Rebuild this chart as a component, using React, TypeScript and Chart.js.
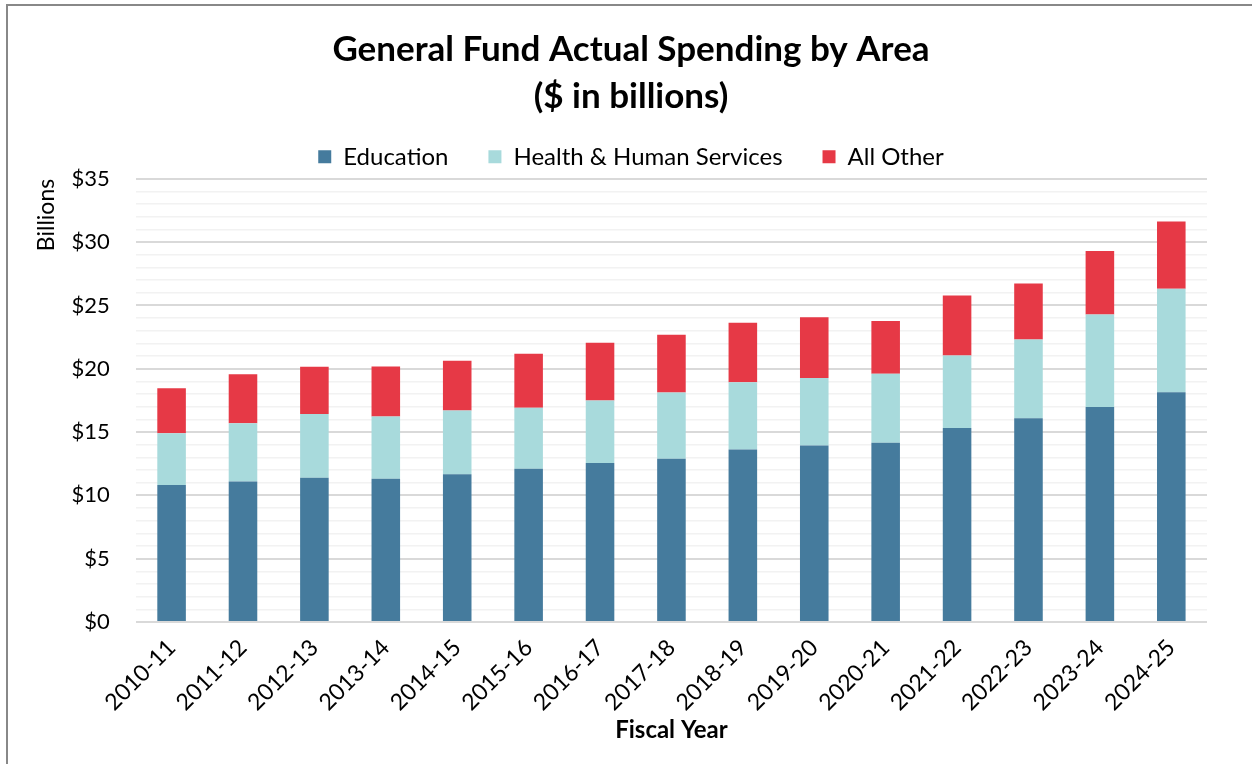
import React, { useEffect, useRef } from "react";
import { Chart, registerables } from "chart.js";

Chart.register(...registerables);

const categories = [
  "2010-11", "2011-12", "2012-13", "2013-14", "2014-15", "2015-16", "2016-17", "2017-18",
  "2018-19", "2019-20", "2020-21", "2021-22", "2022-23", "2023-24", "2024-25",
];

const education = [10.83, 11.09, 11.39, 11.31, 11.68, 12.1, 12.55, 12.89, 13.63, 13.95, 14.16, 15.32, 16.09, 16.99, 18.15];
const healthHumanServices = [4.07, 4.6, 5.04, 4.93, 5.02, 4.83, 4.94, 5.23, 5.31, 5.33, 5.44, 5.73, 6.23, 7.29, 8.16];
const allOther = [3.56, 3.88, 3.73, 3.94, 3.93, 4.26, 4.57, 4.57, 4.7, 4.78, 4.17, 4.73, 4.41, 5.01, 5.31];

const yMin = 0;
const yMax = 35;
const yMajorStep = 5;
const yMinorStep = 1;

const titleLines = ["General Fund Actual Spending by Area", "($ in billions)"];
const yAxisTitle = "Billions";
const xAxisTitle = "Fiscal Year";

const FONT = "Lato, 'Open Sans', sans-serif";

export default function App() {
  const ref = useRef<HTMLCanvasElement>(null);

  useEffect(() => {
    document.body.style.margin = "0";
    const chart = new Chart(ref.current!, {
      type: "bar",
      data: {
        labels: categories,
        datasets: [
          { label: "Education", data: education, backgroundColor: "#457B9D" },
          { label: "Health & Human Services", data: healthHumanServices, backgroundColor: "#A8DADC" },
          { label: "All Other", data: allOther, backgroundColor: "#E63946" },
        ],
      },
      options: {
        responsive: false,
        animation: false,
        layout: { padding: { top: 0, left: 55, right: 45, bottom: 19 } },
        datasets: { bar: { barPercentage: 0.4, categoryPercentage: 1 } },
        plugins: {
          tooltip: { enabled: false },
          title: {
            display: true,
            text: titleLines,
            color: "#000",
            font: { family: FONT, size: 35, weight: "bold", lineHeight: 1.34 },
            padding: { top: 26, bottom: -15 },
          },
          legend: {
            display: true,
            position: "top",
            labels: {
              color: "#000",
              font: { family: FONT, size: 24 },
              boxWidth: 13,
              boxHeight: 13,
              padding: 40,
            },
          },
        },
        scales: {
          x: {
            stacked: true,
            grid: { display: false },
            border: { display: false },
            ticks: {
              color: "#000",
              font: { family: FONT, size: 23 },
              maxRotation: 45,
              minRotation: 45,
              padding: 4,
            },
            title: {
              display: true,
              text: xAxisTitle,
              color: "#000",
              font: { family: FONT, size: 24, weight: "bold" },
              padding: { top: -4, bottom: 0 },
            },
          },
          y: {
            stacked: true,
            min: yMin,
            max: yMax,
            border: { display: false },
            grid: {
              drawTicks: false,
              color: (ctx: any) => (ctx.tick && ctx.tick.value % yMajorStep === 0 ? "#D9D9D9" : "#F2F2F2"),
              lineWidth: (ctx: any) => (ctx.tick && ctx.tick.value % yMajorStep === 0 ? 2 : 1.5),
            },
            ticks: {
              stepSize: yMinorStep,
              autoSkip: false,
              color: "#000",
              font: { family: FONT, size: 22 },
              padding: 26,
              callback: (v: any) => (Number(v) % yMajorStep === 0 ? "$" + v : ""),
            },
            title: {
              display: true,
              text: yAxisTitle,
              align: "end",
              color: "#000",
              font: { family: FONT, size: 23 },
              padding: { top: -22, bottom: -15 },
            },
          },
        },
      },
    });
    return () => chart.destroy();
  }, []);

  return (
    <div style={{ position: "relative", width: 1252, height: 764, background: "#fff" }}>
      <canvas ref={ref} width={1252} height={764} style={{ position: "absolute", left: 0, top: 0 }} />
      <div
        style={{
          position: "absolute",
          left: 6,
          top: 4,
          right: 0,
          bottom: 0,
          borderLeft: "2px solid #888",
          borderTop: "2px solid #888",
          pointerEvents: "none",
        }}
      />
    </div>
  );
}
